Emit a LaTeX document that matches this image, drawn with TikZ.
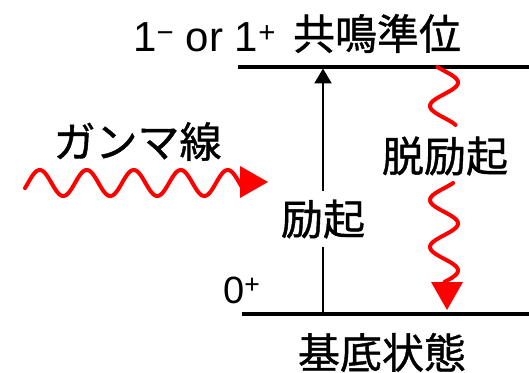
\documentclass[tikz,border=0pt]{standalone}
\usepackage{fontspec}
\setmainfont{Liberation Sans}
\newfontfamily\jp[FakeBold=1]{Noto Sans CJK JP}
\usetikzlibrary{arrows.meta}
\begin{document}
\begin{tikzpicture}[x=1pt,y=1pt,
  jplabel/.style={inner sep=0pt, font=\jp\fontsize{42}{42}\selectfont},
  latlabel/.style={inner sep=0pt, font=\fontsize{42}{42}\selectfont},
  level/.style={line width=3.3pt},
  wave/.style={red, line width=4pt, line cap=round},
  redtip/.style={fill=red, draw=none}]
\useasboundingbox (0,0) rectangle (529,372);
% levels
\coordinate (topL) at (238,305);
\coordinate (topR) at (529,305);
\coordinate (botL) at (242,58);
\coordinate (botR) at (529,58);
\draw[level] (topL) -- (topR);
\draw[level] (botL) -- (botR);
% labels
\node[latlabel, anchor=base west] (spin1) at (133,320) {1\textsuperscript{−} or 1\textsuperscript{+}};
\node[jplabel] (res) at (377,338.5) {共鳴準位};
\node[latlabel, anchor=base west, font=\fontsize{38}{38}\selectfont] (spin0) at (223,69) {0\textsuperscript{+}};
\node[jplabel] (gs) at (382,19.5) {基底状態};
\node[jplabel] (gam) at (137.5,230.5) {ガンマ線};
\node[jplabel] (dex) at (445,216) {脱励起};
% excitation arrow
\coordinate (exB) at (323,58);
\coordinate (exT) at (323,303.5);
\draw[line width=2.4pt, -{Triangle[width=17pt,length=15pt]}] (exB) -- node[pos=0.387, jplabel, fill=white, inner ysep=9pt, inner xsep=2pt] (ex) {励起} (exT);
% incoming gamma ray
\draw[wave] plot[domain=25:242, samples=200] (\x, {189+13*sin(7.6596*(\x-28))});
\coordinate (gtip) at (268,190);
\fill[redtip] (240,206) -- (gtip) -- (240,174) -- cycle;
% de-excitation wave
\draw[wave] plot[domain=67:125, samples=100] ({444+14*sin(7.6596*(\x-164.75))}, {372-\x});
\draw[wave] plot[domain=183:282, samples=150] ({444+14*sin(7.6596*(\x-164.75))}, {372-\x});
\coordinate (dtip) at (447,62);
\fill[redtip] (431,90) -- (dtip) -- (463,90) -- cycle;
\end{tikzpicture}
\end{document}
